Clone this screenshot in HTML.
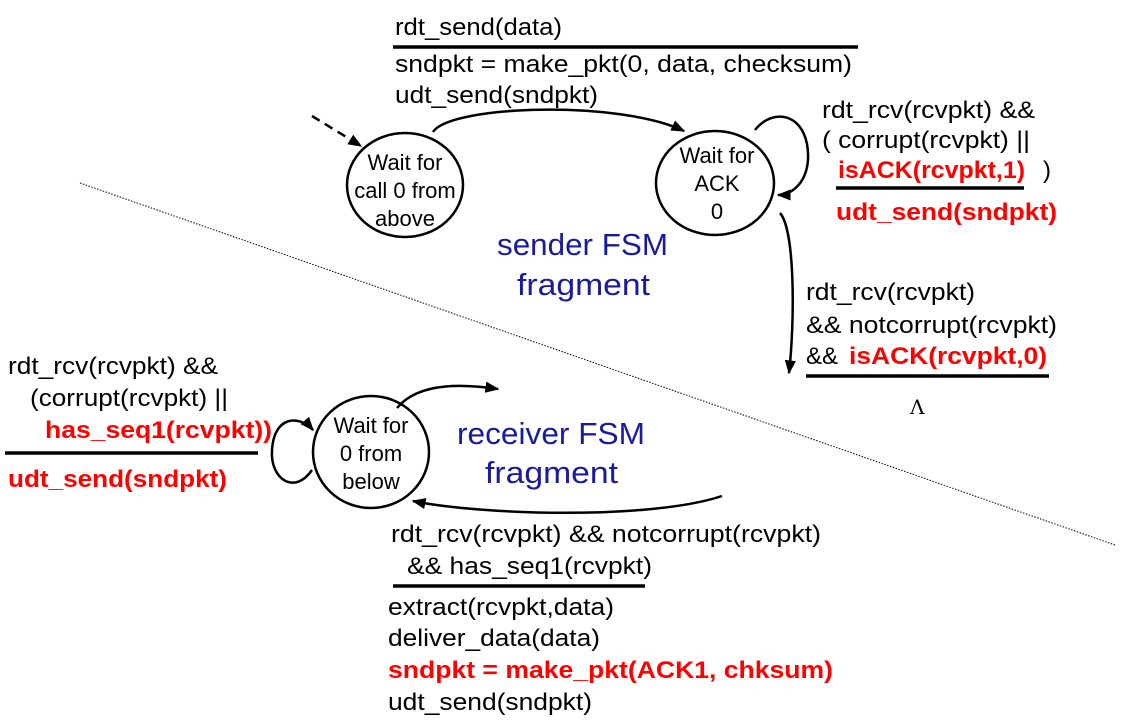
<!DOCTYPE html>
<html><head><meta charset="utf-8"><style>
html,body{margin:0;padding:0;background:#fff;}
svg{display:block;}
text{font-family:"Liberation Sans",Arial,sans-serif;font-size:24px;fill:#000;}
.r{fill:#ff0000;font-weight:bold;}
.b{fill:#1a1a9c;font-size:31px;}
.c{font-size:22px;}
</style></head><body>
<svg width="1127" height="725" viewBox="0 0 1127 725" xmlns="http://www.w3.org/2000/svg">
<defs>
<marker id="h" viewBox="0 0 10 10" refX="9" refY="5" markerWidth="14" markerHeight="14" orient="auto" markerUnits="userSpaceOnUse">
<path d="M0,1 L10,5 L0,9 z" fill="#000"/></marker>
</defs>
<line x1="80" y1="183" x2="1115" y2="545" stroke="#000" stroke-width="1" stroke-dasharray="1.5,1.5"/>

<ellipse cx="405" cy="185" rx="58" ry="52" fill="#fff" stroke="#000" stroke-width="2.5"/>
<text class="c" x="405" y="170" text-anchor="middle">Wait for</text>
<text class="c" x="405" y="198" text-anchor="middle">call 0 from</text>
<text class="c" x="405" y="226" text-anchor="middle">above</text>

<ellipse cx="715" cy="183" rx="59" ry="52" fill="#fff" stroke="#000" stroke-width="2.5"/>
<text class="c" x="717" y="163" text-anchor="middle">Wait for</text>
<text class="c" x="717" y="191" text-anchor="middle">ACK</text>
<text class="c" x="717" y="219" text-anchor="middle">0</text>

<ellipse cx="371" cy="452" rx="58" ry="56" fill="#fff" stroke="#000" stroke-width="2.5"/>
<text class="c" x="371" y="433" text-anchor="middle">Wait for</text>
<text class="c" x="371" y="461" text-anchor="middle">0 from</text>
<text class="c" x="371" y="489" text-anchor="middle">below</text>

<line x1="312" y1="116" x2="361" y2="146" stroke="#000" stroke-width="2.5" stroke-dasharray="9,6" marker-end="url(#h)"/>
<path d="M433,132 C450,105 620,100 684,131" fill="none" stroke="#000" stroke-width="2.5" marker-end="url(#h)"/>
<path d="M755,130 C775,105 810,115 808,160 C806,185 790,195 778,195" fill="none" stroke="#000" stroke-width="2.5" marker-end="url(#h)"/>
<path d="M780,213 C795,230 795,320 789,373" fill="none" stroke="#000" stroke-width="2.5" marker-end="url(#h)"/>
<path d="M397,408 C420,380 470,385 498,389" fill="none" stroke="#000" stroke-width="2.5" marker-end="url(#h)"/>
<path d="M722,496 C650,520 480,515 413,501" fill="none" stroke="#000" stroke-width="2.5" marker-end="url(#h)"/>
<path d="M312,470 C295,495 270,480 272,450 C274,415 300,415 313,430" fill="none" stroke="#000" stroke-width="2.5" marker-end="url(#h)"/>

<text x="395" y="35" textLength="167" lengthAdjust="spacingAndGlyphs">rdt_send(data)</text>
<line x1="393" y1="47" x2="858" y2="47" stroke="#000" stroke-width="3.5"/>
<text x="395" y="72" textLength="457" lengthAdjust="spacingAndGlyphs">sndpkt = make_pkt(0, data, checksum)</text>
<text x="395" y="103" textLength="203" lengthAdjust="spacingAndGlyphs">udt_send(sndpkt)</text>

<text x="822" y="118" textLength="213" lengthAdjust="spacingAndGlyphs">rdt_rcv(rcvpkt) &amp;&amp;</text>
<text x="822" y="148" textLength="208" lengthAdjust="spacingAndGlyphs">( corrupt(rcvpkt) ||</text>
<text class="r" x="838" y="178" textLength="187" lengthAdjust="spacingAndGlyphs">isACK(rcvpkt,1)</text>
<text x="1043" y="178">)</text>
<line x1="836" y1="188" x2="1024" y2="188" stroke="#000" stroke-width="3.5"/>
<text class="r" x="836" y="220" textLength="221" lengthAdjust="spacingAndGlyphs">udt_send(sndpkt)</text>

<text class="b" x="497" y="255" textLength="171" lengthAdjust="spacingAndGlyphs">sender FSM</text>
<text class="b" x="517" y="295" textLength="133" lengthAdjust="spacingAndGlyphs">fragment</text>

<text x="806" y="300" textLength="169" lengthAdjust="spacingAndGlyphs">rdt_rcv(rcvpkt)</text>
<text x="806" y="333" textLength="251" lengthAdjust="spacingAndGlyphs">&amp;&amp; notcorrupt(rcvpkt)</text>
<text x="806" y="364">&amp;&amp;</text>
<text class="r" x="849" y="364" textLength="198" lengthAdjust="spacingAndGlyphs">isACK(rcvpkt,0)</text>
<line x1="806" y1="376" x2="1049" y2="376" stroke="#000" stroke-width="3.5"/>
<text x="910" y="414" style="font-family:'DejaVu Serif',serif;font-size:20px">Λ</text>

<text x="8" y="374" textLength="210" lengthAdjust="spacingAndGlyphs">rdt_rcv(rcvpkt) &amp;&amp;</text>
<text x="30" y="406" textLength="198" lengthAdjust="spacingAndGlyphs">(corrupt(rcvpkt) ||</text>
<text class="r" x="45" y="438" textLength="227" lengthAdjust="spacingAndGlyphs">has_seq1(rcvpkt))</text>
<line x1="5" y1="453" x2="258" y2="453" stroke="#000" stroke-width="3.5"/>
<text class="r" x="8" y="487" textLength="219" lengthAdjust="spacingAndGlyphs">udt_send(sndpkt)</text>

<text class="b" x="457" y="444" textLength="188" lengthAdjust="spacingAndGlyphs">receiver FSM</text>
<text class="b" x="485" y="483" textLength="133" lengthAdjust="spacingAndGlyphs">fragment</text>

<text x="391" y="542" textLength="430" lengthAdjust="spacingAndGlyphs">rdt_rcv(rcvpkt) &amp;&amp; notcorrupt(rcvpkt)</text>
<text x="407" y="574" textLength="245" lengthAdjust="spacingAndGlyphs">&amp;&amp; has_seq1(rcvpkt)</text>
<line x1="393" y1="586" x2="645" y2="586" stroke="#000" stroke-width="3.5"/>
<text x="388" y="615" textLength="226" lengthAdjust="spacingAndGlyphs">extract(rcvpkt,data)</text>
<text x="388" y="646" textLength="212" lengthAdjust="spacingAndGlyphs">deliver_data(data)</text>
<text class="r" x="388" y="678" textLength="445" lengthAdjust="spacingAndGlyphs">sndpkt = make_pkt(ACK1, chksum)</text>
<text x="388" y="710" textLength="204" lengthAdjust="spacingAndGlyphs">udt_send(sndpkt)</text>
</svg>
</body></html>
